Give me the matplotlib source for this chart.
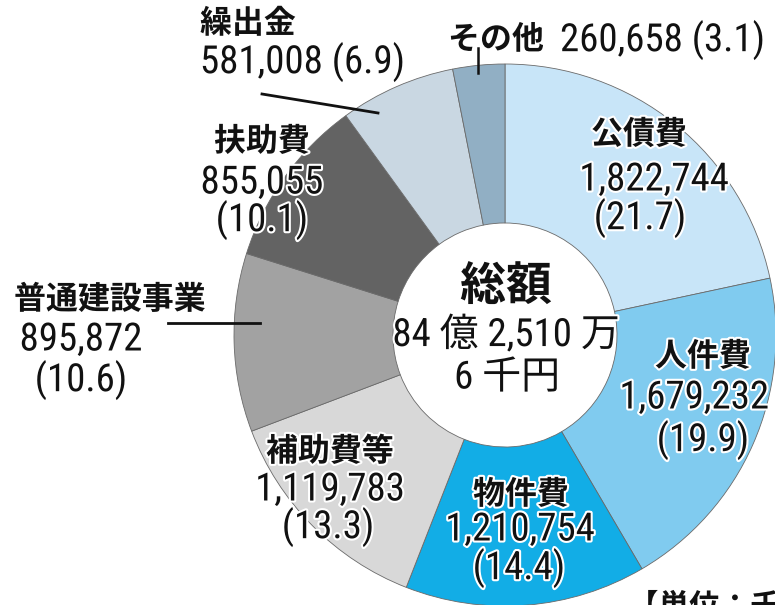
import matplotlib
matplotlib.use("Agg")
import matplotlib.pyplot as plt
import matplotlib.patheffects as pe
from matplotlib import font_manager

# ---- data ----
categories = ['公債費', '人件費', '物件費', '補助費等', '普通建設事業', '扶助費', '繰出金', 'その他']
amounts = [1822744, 1679232, 1210754, 1119783, 895872, 855055, 581008, 260658]
percents = [21.7, 19.9, 14.4, 13.3, 10.6, 10.1, 6.9, 3.1]
total_lines = ['総額', '84 億 2,510 万', '6 千円']
unit_label = '【単位：千円】'

# ---- style ----
colors = ['#c8e5f8', '#80cbef', '#12ade6', '#d8d8d8', '#a2a2a2', '#636363', '#c9d7e2', '#91afc4']

avail = {f.name for f in font_manager.fontManager.ttflist}
num_font = next((f for f in ['Liberation Sans Narrow', 'DejaVu Sans Condensed', 'Roboto Condensed',
                             'Liberation Sans'] if f in avail), 'DejaVu Sans')
CJK = 'Noto Sans CJK JP'
plt.rcParams['font.family'] = [num_font, CJK, 'DejaVu Sans']
NUM_SIZE = 28 if 'Narrow' in num_font or 'Condensed' in num_font else 25

W, H = 775, 605
fig = plt.figure(figsize=(W / 100, H / 100), dpi=100)
ax = fig.add_axes([0, 0, 1, 1])

def Y(y):
    return H - y

R_OUT, R_IN = 271, 112
cx, cy = 505, Y(335)
ax.pie(amounts, colors=colors, startangle=90, counterclock=False,
       radius=R_OUT, center=(cx, cy), frame=True,
       wedgeprops=dict(width=R_OUT - R_IN, edgecolor='#6a6a6a', linewidth=0.6))
ax.set_xlim(0, W)
ax.set_ylim(0, H)
ax.set_aspect('equal')
ax.axis('off')

halo = [pe.withStroke(linewidth=3, foreground='white')]

def cjk(x, y, s, size=23, ha='center', weight='bold'):
    ax.text(x, Y(y), s, ha=ha, va='center', fontsize=size, family=[CJK],
            fontweight=weight, color='#111111', path_effects=halo)

def num(x, y, s, size=NUM_SIZE, ha='center'):
    ax.text(x, Y(y), s, ha=ha, va='center', fontsize=size,
            family=[num_font, CJK], color='#111111', path_effects=halo)

fmt = lambda v: f'{v:,}'
pct = lambda p: f'({p})'

# label layout: (name xy, amount xy, percent xy)
layout = {
    '公債費': ((639, 135), (654, 180), (640, 218)),
    '人件費': ((703, 357), (694, 398), (703, 440)),
    '物件費': ((521, 495), (520, 530), (519, 568)),
    '補助費等': ((330, 452), (330, 490), (328, 527)),
    '普通建設事業': ((110, 300), (81, 340), (81, 380)),
    '扶助費': ((262, 142), (262, 183), (262, 220)),
}
for name, amt, p in zip(categories, amounts, percents):
    if name in layout:
        (nx, ny), (ax_, ay), (px, py) = layout[name]
        cjk(nx, ny, name)
        num(ax_, ay, fmt(amt))
        num(px, py, pct(p))

# 繰出金 (outside)
i = categories.index('繰出金')
cjk(200, 24, categories[i], ha='left')
num(200, 62, f'{fmt(amounts[i])} {pct(percents[i])}', ha='left')
ax.plot([262, 378], [Y(94), Y(113)], color='#111111', lw=2)

# その他 (outside)
j = categories.index('その他')
cjk(448, 40, categories[j], ha='left')
num(560, 40, f'{fmt(amounts[j])} {pct(percents[j])}', ha='left')
ax.plot([478, 478], [Y(48), Y(73)], color='#111111', lw=1.8)

# 普通建設事業 leader
ax.plot([168, 260], [Y(323), Y(323)], color='#111111', lw=2)

# center total
cjk(506, 287, total_lines[0], size=33)
num(506, 335, total_lines[1], size=NUM_SIZE)
num(507, 378, total_lines[2], size=NUM_SIZE)

# unit (partly cut by the bottom edge, as in the reference)
cjk(628, 607, unit_label, size=22, ha='left')

fig.savefig('out.png', dpi=100)
